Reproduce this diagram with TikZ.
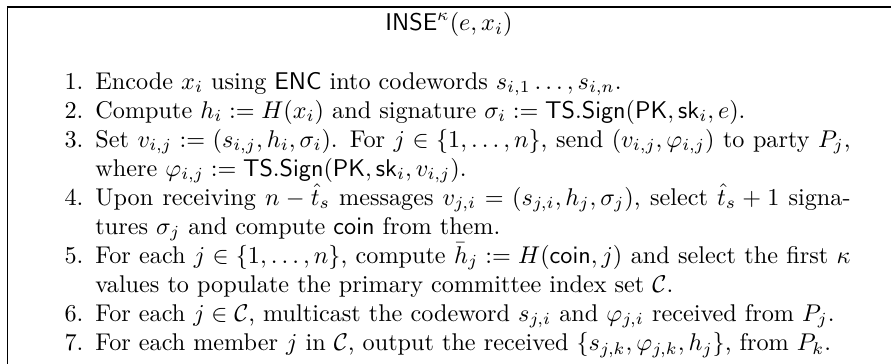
\documentclass[tikz,border=0pt]{standalone}
\usepackage{amsmath,amssymb}
\usepackage{enumitem}
\tikzset{
  frameline/.style={line width=0.75pt, draw=black},
  titletext/.style={anchor=base, inner sep=0pt},
  bodytext/.style={anchor=base west, inner sep=0pt}
}
\begin{document}
\begin{tikzpicture}[x=0.4132pt,y=-0.4132pt]
\useasboundingbox[fill=white] (0,0) rectangle (891,364);
\coordinate (tr) at (891,7);
\coordinate (tl) at (7.5,7);
\coordinate (bl) at (7.5,364);
\draw[frameline] (tr) -- (tl) -- (bl);
\node[titletext] (title) at (449,31) {$\mathsf{INSE}^{\kappa}(e,x_i)$};
\node[bodytext] (body) at (34.5,89) {\begin{minipage}[t]{337pt}
\begin{enumerate}[nosep,leftmargin=25pt,labelsep=5pt]
\item Encode $x_i$ using $\mathsf{ENC}$ into codewords $s_{i,1}\ldots,s_{i,n}$.
\item Compute $h_i := H(x_i)$ and signature $\sigma_i := \mathsf{TS.Sign}(\mathsf{PK},\mathsf{sk}_i,e)$.
\item Set $v_{i,j} := (s_{i,j},h_i,\sigma_i)$. For $j\in\{1,\ldots,n\}$, send $(v_{i,j},\varphi_{i,j})$ to party $P_j$,\linebreak where $\varphi_{i,j} := \mathsf{TS.Sign}(\mathsf{PK},\mathsf{sk}_i,v_{i,j})$.
\item Upon receiving $n-\hat{t}_s$ messages $v_{j,i}=(s_{j,i},h_j,\sigma_j)$, select $\hat{t}_s+1$ signa-\linebreak tures $\sigma_j$ and compute $\mathsf{coin}$ from them.
\item For each $j\in\{1,\ldots,n\}$, compute $\bar{h}_j := H(\mathsf{coin},j)$ and select the first $\kappa$\linebreak values to populate the primary committee index set $\mathcal{C}$.
\item For each $j\in\mathcal{C}$, multicast the codeword $s_{j,i}$ and $\varphi_{j,i}$ received from $P_j$.
\item For each member $j$ in $\mathcal{C}$, output the received $\{s_{j,k},\varphi_{j,k},h_j\}$, from $P_k$.
\end{enumerate}
\end{minipage}};
\end{tikzpicture}
\end{document}
